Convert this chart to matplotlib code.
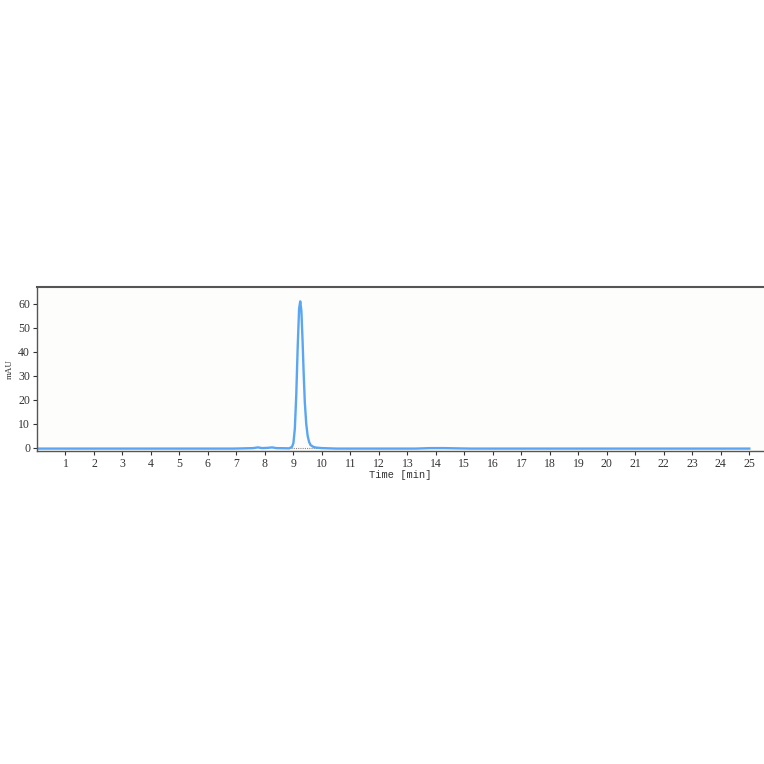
"""Хроматограмма: один пик около 9.2 мин."""
import matplotlib.pyplot as plt

# время, мин
time_min = [0.0, 6.9, 7.3, 7.6, 7.75, 7.9, 8.1, 8.25, 8.4, 8.85, 8.95, 9.0, 9.05,
            9.1, 9.15, 9.2, 9.24, 9.28, 9.32, 9.36, 9.4, 9.45, 9.5, 9.55, 9.6,
            9.7, 9.8, 10.0, 10.5, 13.3, 13.8, 14.3, 14.7, 15.2, 25.0]
# сигнал, mAU
signal_mau = [-0.3, -0.3, -0.2, -0.1, 0.2, -0.1, 0.0, 0.2, -0.1, -0.2, 0.4, 2.0, 8.0,
              22.0, 42.0, 58.0, 61.0, 57.0, 45.0, 31.0, 19.0, 10.0, 5.0, 2.5, 1.2,
              0.4, 0.1, -0.1, -0.3, -0.3, -0.1, -0.1, -0.2, -0.3, -0.3]

# базовая линия интегрирования пика
base_start, base_end = 8.9, 9.85

x_ticks = list(range(1, 26))
y_ticks = [0, 10, 20, 30, 40, 50, 60]

fig = plt.figure(figsize=(7.64, 7.64), dpi=100)
ax = fig.add_axes([0.0484, 0.4097, 0.951, 0.2147])
ax.set_facecolor('#fdfdfb')

ax.plot([base_start, base_end], [0, 0], color='#888888', lw=0.8, ls=(0, (1, 1)), zorder=1)
ax.plot(time_min, signal_mau, color='#5aa6f2', lw=1.7, zorder=2)

ax.set_xlim(0, 25.5)
ax.set_ylim(-1.3, 67)
ax.set_xticks(x_ticks)
ax.set_yticks(y_ticks)

font = {'family': 'Liberation Serif', 'size': 8.5, 'color': '#333333'}
ax.set_xticklabels([str(t) for t in x_ticks], fontdict=font)
ax.set_yticklabels([str(t) for t in y_ticks], fontdict=font)
ax.set_xlabel("Time [min]", fontdict={'family': 'Liberation Mono', 'size': 7.5,
                                      'color': '#333333'}, labelpad=0)
ax.set_ylabel("mAU", fontdict={'family': 'Liberation Serif', 'size': 6.5,
                               'color': '#333333'}, labelpad=3)

ax.tick_params(direction='out', length=3, width=0.8, colors='#333333', pad=2)
for side in ['left', 'bottom', 'top']:
    ax.spines[side].set_color('#555555')
    ax.spines[side].set_linewidth(1.0)
ax.spines['top'].set_linewidth(1.5)
ax.spines['right'].set_visible(False)

plt.savefig("out.png", dpi=100)
